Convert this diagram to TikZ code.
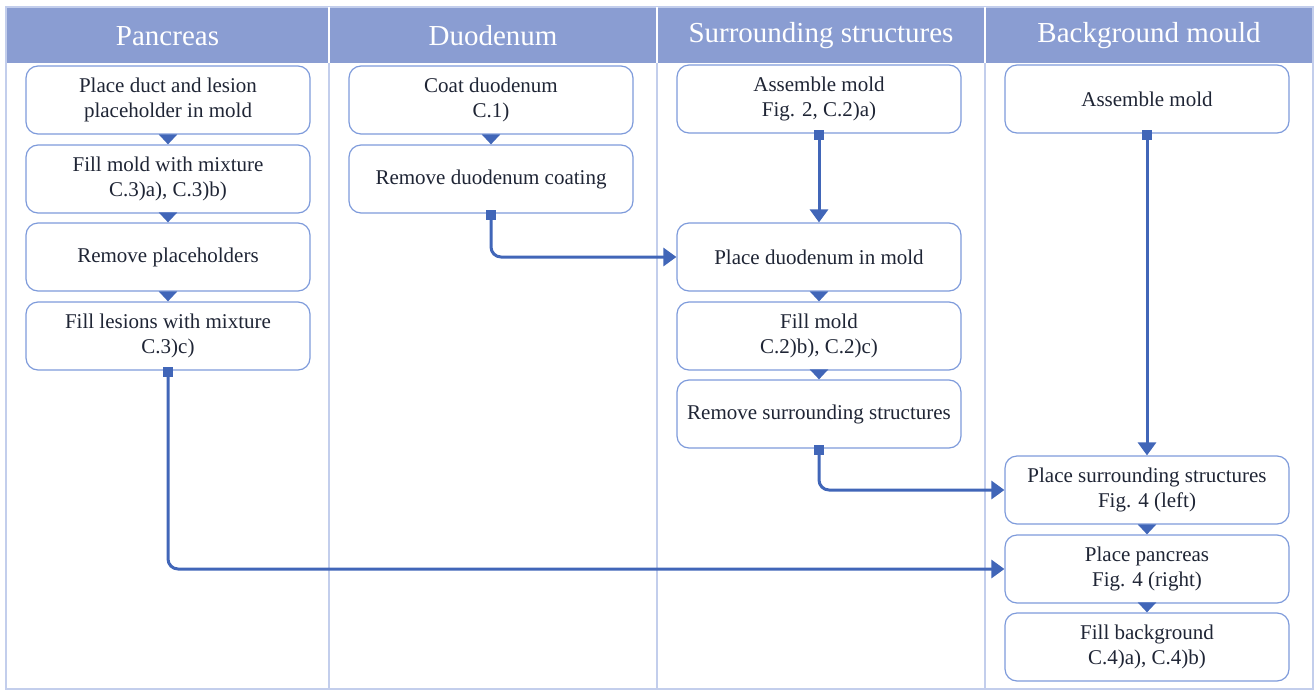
\documentclass[tikz,border=0pt]{standalone}
\usepackage{fontspec}
\setmainfont{Liberation Serif}
\newfontfamily\flowserif{Liberation Serif}
\usetikzlibrary{arrows.meta,positioning}
\definecolor{headblue}{HTML}{8A9DD2}
\definecolor{boxblue}{HTML}{7E9BDB}
\definecolor{flowblue}{HTML}{4166B8}
\definecolor{laneline}{HTML}{C3CEEC}
\definecolor{inktext}{HTML}{1F2535}
\begin{document}
\begin{tikzpicture}[x=1pt,y=-1pt,
  lane/.style={draw=laneline,line width=2pt},
  header/.style={text=white,font=\flowserif\fontsize{29}{32}\selectfont},
  task/.style={draw=boxblue,line width=1.2pt,rounded corners=12pt,fill=white,
    minimum width=284pt,minimum height=68pt,align=center,text=inktext,
    font=\flowserif\fontsize{21}{25}\selectfont,inner sep=2pt},
  flow/.style={draw=flowblue,line width=3pt,arrows={-Triangle[width=18pt,length=10pt]}},
  longflow/.style={flow,rounded corners=10pt,
    arrows={Square[length=10pt,width=10pt]-Triangle[width=18pt,length=13pt]}}]
\useasboundingbox (0,0) rectangle (1315,691);
% lanes and header
\fill[headblue] (6,7) rectangle (1313,63);
\draw[lane] (6,7) rectangle (1313,689);
\foreach \x in {329,657,985} {
  \draw[white,line width=1.5pt] (\x,7) -- (\x,63);
  \draw[lane] (\x,63) -- (\x,689);
}
\node[header] (hpan) at (167.5,36) {Pancreas};
\node[header] (hduo) at (493,36) {Duodenum};
\node[header] (hsur) at (821,36) {Surrounding structures};
\node[header] (hbgm) at (1149,36) {Background mould};
% pancreas
\node[task] (p1) at (168,100) {Place duct and lesion\\placeholder in mold};
\node[task] (p2) at (168,179) {Fill mold with mixture\\C.3)a), C.3)b)};
\node[task] (p3) at (168,257) {Remove placeholders};
\node[task] (p4) at (168,336) {Fill lesions with mixture\\C.3)c)};
% duodenum
\node[task] (d1) at (491,100) {Coat duodenum\\C.1)};
\node[task] (d2) at (491,179) {Remove duodenum coating};
% surrounding structures
\node[task] (s1) at (819,99) {Assemble mold\\Fig. 2, C.2)a)};
\node[task] (s2) at (819,257) {Place duodenum in mold};
\node[task] (s3) at (819,336) {Fill mold\\C.2)b), C.2)c)};
\node[task] (s4) at (819,414) {Remove surrounding structures};
% background mould
\node[task] (b1) at (1147,99) {Assemble mold};
\node[task] (b2) at (1147,490) {Place surrounding structures\\Fig. 4 (left)};
\node[task] (b3) at (1147,569) {Place pancreas\\Fig. 4 (right)};
\node[task] (b4) at (1147,647) {Fill background\\C.4)a), C.4)b)};
% connectors
\draw[flow] (p1.south) -- (p2.north);
\draw[flow] (p2.south) -- (p3.north);
\draw[flow] (p3.south) -- (p4.north);
\draw[flow] (d1.south) -- (d2.north);
\draw[flow] (s2.south) -- (s3.north);
\draw[flow] (s3.south) -- (s4.north);
\draw[flow] (b2.south) -- (b3.north);
\draw[flow] (b3.south) -- (b4.north);
\draw[longflow] ([yshift=4pt]d2.south) |- (s2.west);
\draw[longflow] ([yshift=4pt]s1.south) -- (s2.north);
\draw[longflow] ([yshift=4pt]s4.south) |- (b2.west);
\draw[longflow] ([yshift=4pt]b1.south) -- (b2.north);
\draw[longflow] ([yshift=4pt]p4.south) |- (b3.west);
\end{tikzpicture}
\end{document}
